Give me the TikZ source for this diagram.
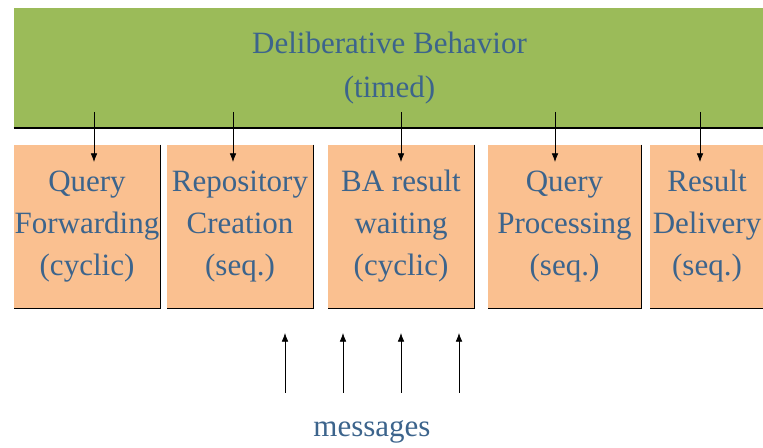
\documentclass[tikz,border=0pt]{standalone}
\usepackage{fontspec}
\setmainfont{Liberation Serif}
\usepackage{tikz}
\usetikzlibrary{arrows.meta}
\definecolor{behgreen}{RGB}{155,187,89}
\definecolor{taskorange}{RGB}{250,192,144}
\definecolor{txtblue}{RGB}{60,100,140}
\tikzset{BHnode/.style={fill=behgreen,minimum width=563.25pt,minimum height=90pt,inner sep=0pt,text=txtblue,align=center,font=\fontsize{23.25}{33}\selectfont}}
\tikzset{TSnode/.style={fill=taskorange,minimum height=122.25pt,inner sep=0pt,text=txtblue,align=center,font=\fontsize{23.25}{31.5}\selectfont}}

\begin{document}
\begin{tikzpicture}[x=0.75pt,y=-0.75pt,>={Latex[length=6.5pt,width=5pt]}]
	\useasboundingbox (0,0) rectangle (763,448);
	\node[BHnode] (D) at (389.5,68) {Deliberative Behavior\\(timed)};
	\node[TSnode,minimum width=109.5pt] (QF) at (87,226.5) {Query\\Forwarding\\(cyclic)};
	\node[TSnode,minimum width=109.5pt] (RC) at (240,226.5) {Repository\\Creation\\(seq.)};
	\node[TSnode,minimum width=109.5pt] (BA) at (401,226.5) {BA result\\waiting\\(cyclic)};
	\node[TSnode,minimum width=114.75pt] (QP) at (564.5,226.5) {Query\\Processing\\(seq.)};
	\node[TSnode,minimum width=85.5pt] (RD) at (707,226.5) {Result\\Delivery\\(seq.)};
	\node[text=txtblue,font=\fontsize{23.25}{28}\selectfont] (M) at (372,432) {messages};
	%
	\draw[line width=1.5pt] (D.south west) -- (D.south east);
	\foreach \n in {QF,RC,BA,QP,RD}
		\draw[line width=1pt] (\n.north east) -- (\n.south east) -- (\n.south west);
	%
	\coordinate (QF') at (94,112);
	\coordinate (QF'') at (94,162);
	\coordinate (RC') at (233,112);
	\coordinate (RC'') at (233,162);
	\coordinate (BA') at (401,112);
	\coordinate (BA'') at (401,162);
	\coordinate (QP') at (555,112);
	\coordinate (QP'') at (555,162);
	\coordinate (RD') at (700,112);
	\coordinate (RD'') at (700,162);
	\coordinate (M1) at (285,393);
	\coordinate (M1') at (285,333);
	\coordinate (M2) at (343,393);
	\coordinate (M2') at (343,333);
	\coordinate (M3) at (401,393);
	\coordinate (M3') at (401,333);
	\coordinate (M4) at (459,393);
	\coordinate (M4') at (459,333);
	%
	\path[->,line width=0.6pt]
	(QF') edge (QF'')
	(RC') edge (RC'')
	(BA') edge (BA'')
	(QP') edge (QP'')
	(RD') edge (RD'')
	(M1) edge (M1')
	(M2) edge (M2')
	(M3) edge (M3')
	(M4) edge (M4');
\end{tikzpicture}
\end{document}
